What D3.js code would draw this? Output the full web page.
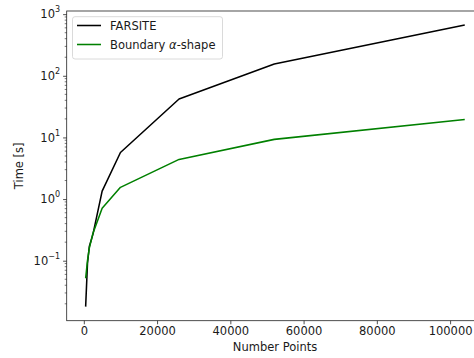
<!DOCTYPE html>
<html>
<head>
<meta charset="utf-8">
<script src="https://cdn.jsdelivr.net/npm/d3@7"></script>
<style>
  html, body { margin: 0; padding: 0; background: #fff; }
  svg { display: block; font-family: "DejaVu Sans", sans-serif; }
</style>
</head>
<body>
<svg id="chart" width="474" height="358"></svg>
<script>
// number of points in each run
const points = [500, 1000, 1500, 2500, 5000, 10000, 26000, 52000, 104000];
// run times [s]
const farsite = [0.018, 0.09, 0.17, 0.27, 1.35, 5.7, 42, 155, 665];
const alphaShape = [0.052, 0.1, 0.16, 0.28, 0.71, 1.55, 4.4, 9.3, 19.5];
const seriesNames = ['FARSITE', 'Boundary α-shape'];
const seriesColors = ['#000000', '#008000'];
const xTicks = [0, 20000, 40000, 60000, 80000, 100000];
const yTicks = [0.1, 1, 10, 100, 1000];

const FS = 11.5;
const svg = d3.select('#chart');
const plot = { left: 66.7, top: 11, right: 483.7, bottom: 320.7 };

// matplotlib-like autoscale: 5% margin (in log space for y)
const xr = d3.extent(points);
const xpad = (xr[1] - xr[0]) * 0.05;
const x = d3.scaleLinear()
  .domain([xr[0] - xpad, xr[1] + xpad])
  .range([plot.left, plot.right]);

const ylog = d3.extent(farsite.concat(alphaShape)).map(Math.log10);
const ypad = (ylog[1] - ylog[0]) * 0.05;
const y = d3.scaleLog()
  .domain([Math.pow(10, ylog[0] - ypad), Math.pow(10, ylog[1] + ypad)])
  .range([plot.bottom, plot.top]);

svg.append('clipPath').attr('id', 'clip')
  .append('rect')
  .attr('x', plot.left).attr('y', plot.top)
  .attr('width', plot.right - plot.left).attr('height', plot.bottom - plot.top);

// lines
const line = d3.line()
  .x(d => x(d[0]))
  .y(d => y(d[1]));

[farsite, alphaShape].forEach((vals, i) => {
  svg.append('path')
    .datum(points.map((p, j) => [p, vals[j]]))
    .attr('clip-path', 'url(#clip)')
    .attr('fill', 'none')
    .attr('stroke', seriesColors[i])
    .attr('stroke-width', 1.55)
    .attr('stroke-linejoin', 'round')
    .attr('d', line);
});

// frame
svg.append('rect')
  .attr('x', plot.left).attr('y', plot.top)
  .attr('width', plot.right - plot.left).attr('height', plot.bottom - plot.top)
  .attr('fill', 'none').attr('stroke', '#222').attr('stroke-width', 0.8);

// x axis
const xAxis = d3.axisBottom(x)
  .tickValues(xTicks)
  .tickFormat(d3.format('d'))
  .tickSize(3.6)
  .tickPadding(3);
const gx = svg.append('g')
  .attr('transform', `translate(0,${plot.bottom})`)
  .call(xAxis);
gx.select('.domain').remove();
gx.selectAll('line').attr('stroke', '#222').attr('stroke-width', 0.8);
gx.selectAll('text')
  .attr('font-size', FS).attr('fill', '#1a1a1a')
  .attr('font-family', '"DejaVu Sans", sans-serif');

// y axis, major
const yAxis = d3.axisLeft(y)
  .tickValues(yTicks)
  .tickFormat('')
  .tickSize(3.6)
  .tickPadding(3);
const gy = svg.append('g')
  .attr('transform', `translate(${plot.left},0)`)
  .call(yAxis);
gy.select('.domain').remove();
gy.selectAll('line').attr('stroke', '#222').attr('stroke-width', 0.8);
gy.selectAll('.tick text').each(function (d) {
  const e = Math.round(Math.log10(d));
  const t = d3.select(this)
    .attr('font-size', FS).attr('fill', '#1a1a1a')
    .attr('font-family', '"DejaVu Sans", sans-serif')
    .attr('dy', '0.32em');
  t.text(null);
  t.append('tspan').text('10');
  t.append('tspan')
    .attr('font-size', FS * 0.7)
    .attr('dy', '-0.75em')
    .text(String(e).replace('-', '−'));
});

// y axis, minor ticks
const minor = [];
const [d0, d1] = y.domain();
for (let e = Math.floor(Math.log10(d0)); e <= Math.ceil(Math.log10(d1)); e++) {
  for (let m = 2; m <= 9; m++) {
    const v = m * Math.pow(10, e);
    if (v >= d0 && v <= d1) minor.push(v);
  }
}
svg.append('g')
  .selectAll('line')
  .data(minor)
  .join('line')
  .attr('x1', plot.left - 2).attr('x2', plot.left)
  .attr('y1', d => y(d)).attr('y2', d => y(d))
  .attr('stroke', '#222').attr('stroke-width', 0.6);

// axis labels
svg.append('text')
  .attr('x', 275).attr('y', 351)
  .attr('text-anchor', 'middle')
  .attr('font-size', FS).attr('fill', '#1a1a1a')
  .text('Number Points');

svg.append('text')
  .attr('transform', `translate(22.5,${(plot.top + plot.bottom) / 2}) rotate(-90)`)
  .attr('text-anchor', 'middle')
  .attr('font-size', FS).attr('fill', '#1a1a1a')
  .text('Time [s]');

// legend
const lg = svg.append('g');
lg.append('rect')
  .attr('x', 72.5).attr('y', 16.7)
  .attr('width', 150).attr('height', 42.3)
  .attr('rx', 2.5)
  .attr('fill', '#fff').attr('fill-opacity', 0.8)
  .attr('stroke', '#d0d0d0').attr('stroke-width', 0.8);

const rows = lg.selectAll('g.row')
  .data(seriesNames)
  .join('g')
  .attr('class', 'row')
  .attr('transform', (_, i) => `translate(0,${25.5 + i * 19})`);
rows.append('line')
  .attr('x1', 77).attr('x2', 101)
  .attr('stroke', (_, i) => seriesColors[i])
  .attr('stroke-width', 1.55);
rows.append('text')
  .attr('x', 110).attr('dy', '0.35em')
  .attr('font-size', FS).attr('fill', '#1a1a1a')
  .each(function (d) {
    const t = d3.select(this);
    if (d.includes('α')) {
      const parts = d.split('α');
      t.append('tspan').text(parts[0]);
      t.append('tspan').attr('font-style', 'italic').text('α');
      t.append('tspan').text(parts[1]);
    } else {
      t.text(d);
    }
  });
</script>
</body>
</html>
